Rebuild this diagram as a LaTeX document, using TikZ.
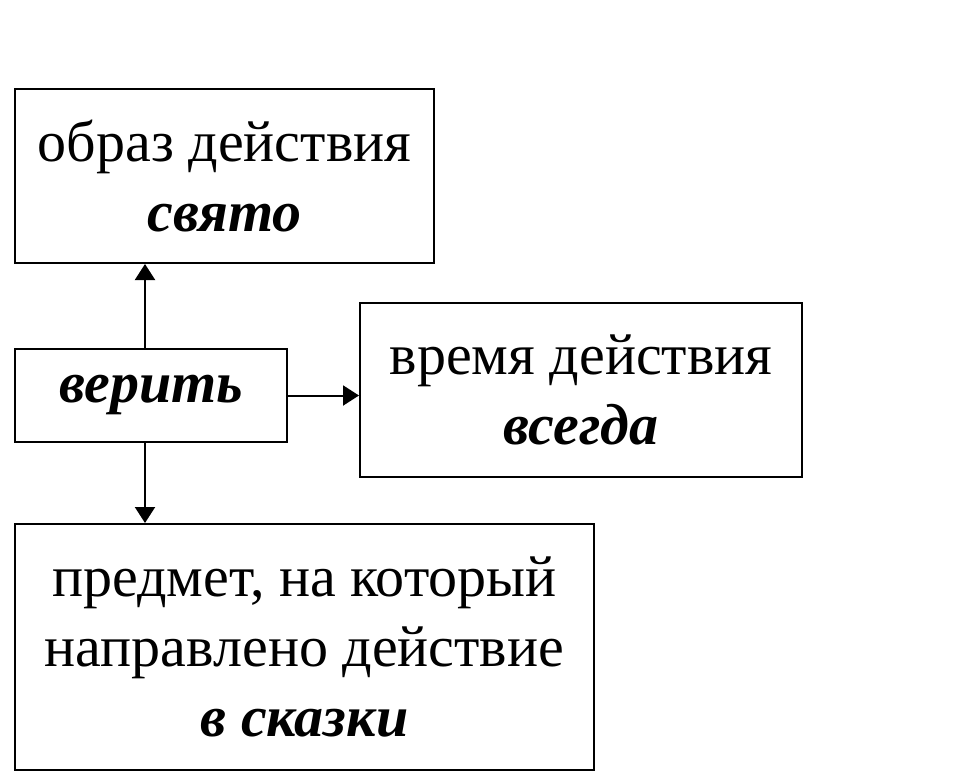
\documentclass[tikz,border=0pt]{standalone}
\usepackage{fontspec}
\setmainfont{Liberation Serif}
\usetikzlibrary{arrows.meta}
\tikzset{
	box/.style={draw, line width=1pt, align=center, inner sep=0pt,
		font=\fontsize{29}{35}\selectfont},
	arr/.style={line width=1pt, -{Triangle[length=8pt,width=10pt]}}
}
\begin{document}
\begin{tikzpicture}[x=0.5pt,y=-0.5pt]
	\useasboundingbox (0,0) rectangle (960,782);
	\node[box, minimum width=209.5pt, minimum height=87pt] (obraz) at (224.5,176)
		{образ действия\\\textbf{\textit{свято}}};
	\node[box, minimum width=136pt, minimum height=46.5pt] (verit) at (151,395.5)
		{\textbf{\textit{верить}}};
	\node[box, minimum width=221pt, minimum height=87pt] (vremya) at (581,390)
		{время действия\\\textbf{\textit{всегда}}};
	\node[box, minimum width=289.5pt, minimum height=123pt] (predmet) at (304.5,647)
		{предмет, на который\\направлено действие\\\textbf{\textit{в сказки}}};
	
	\draw [arr] ([xshift=-3pt]verit.north) -- ([xshift=-3pt]verit.north |- obraz.south);
	\draw [arr] (verit.east) -- (verit.east -| vremya.west);
	\draw [arr] ([xshift=-3pt]verit.south) -- ([xshift=-3pt]verit.south |- predmet.north);
\end{tikzpicture}
\end{document}
